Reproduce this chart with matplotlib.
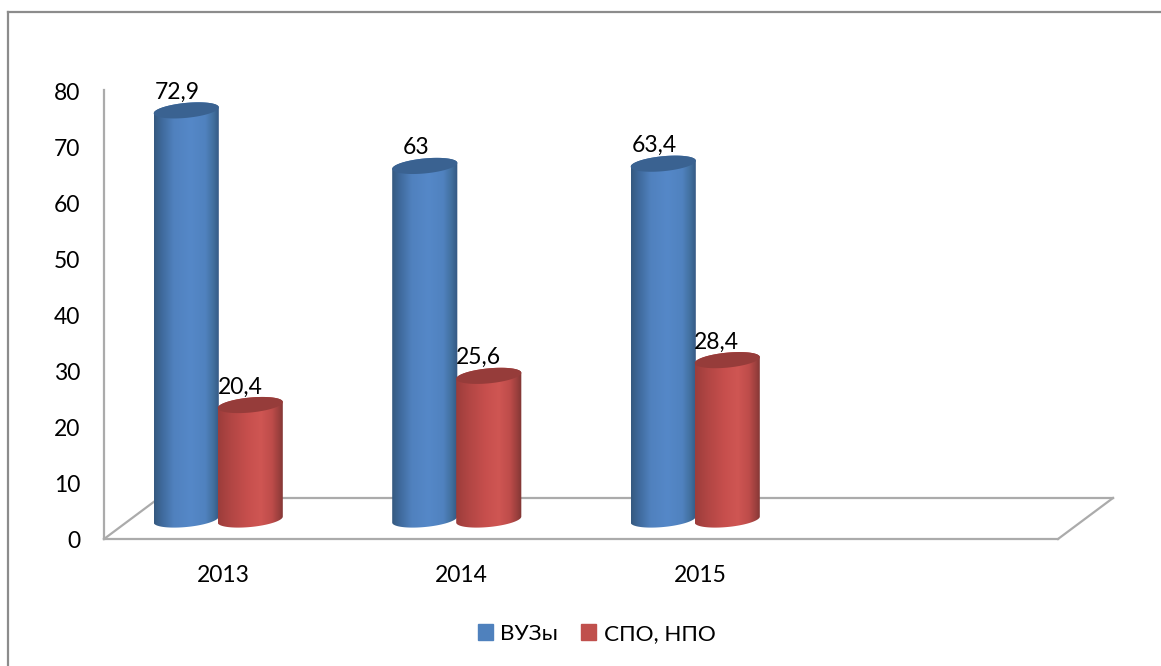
import numpy as np
import matplotlib
matplotlib.use("Agg")
import matplotlib.pyplot as plt
from matplotlib.colors import LinearSegmentedColormap
from matplotlib.lines import Line2D
from matplotlib.patches import Patch, Polygon
from matplotlib.transforms import ScaledTranslation

years = ["2013", "2014", "2015"]
vuz = [72.9, 63, 63.4]
spo = [20.4, 25.6, 28.4]
vuz_labels = ["72,9", "63", "63,4"]
spo_labels = ["20,4", "25,6", "28,4"]
y_ticks = [0, 10, 20, 30, 40, 50, 60, 70, 80]

W, H = 1161, 666
FS = 16.5
plt.rcParams['font.family'] = ['Lato', 'Open Sans', 'DejaVu Sans']
plt.rcParams['font.size'] = FS
fig = plt.figure(figsize=(W / 100, H / 100), dpi=100, facecolor='white')
L, R, T, B = 104, 1058, 90, 539
ax = fig.add_axes([L / W, 1 - B / H, (R - L) / W, (B - T) / H])
ax.set_facecolor('none')
ax.set_xlim(0, 4)
ax.set_ylim(0, 80)
px_x = 4 / (R - L)
px_y = 80 / (B - T)

GRID = '#ABABAB'
for s in ['top', 'right']:
    ax.spines[s].set_visible(False)
for s in ['left', 'bottom']:
    ax.spines[s].set_color(GRID)
    ax.spines[s].set_linewidth(1.6)

# floor of the 3D box
dx, dy = 55 * px_x, 41 * px_y
ax.plot([0, dx], [0, dy], color=GRID, lw=1.6, clip_on=False, zorder=1)
ax.plot([dx, 4 + dx], [dy, dy], color=GRID, lw=1.6, clip_on=False, zorder=1)
ax.plot([4, 4 + dx], [0, dy], color=GRID, lw=1.6, clip_on=False, zorder=1)

blue = LinearSegmentedColormap.from_list('b', [(0, '#35597F'), (0.12, '#3F6A9C'), (0.3, '#5081BE'), (0.55, '#5588C8'), (0.78, '#5082BF'), (0.9, '#42709F'), (1, '#335680')])
red = LinearSegmentedColormap.from_list('r', [(0, '#9C3D3B'), (0.2, '#B24644'), (0.45, '#C74F4D'), (0.65, '#CF5653'), (0.82, '#BE4C4A'), (0.93, '#9A3F3D'), (1, '#7E3634')])

base = 3.47
half_w = 0.1365
ry = 7.5 * px_y
tilt = 3 * px_y


def cylinder(center, value, cmap, top_color, z):
    t = np.linspace(0, 2 * np.pi, 121)
    top = base + value
    ex = half_w * np.cos(t)
    ey = ry * np.sin(t) + tilt * np.cos(t)
    lower = t[:61]
    # outline: front of bottom ellipse, up the right side, back over the top
    bx = center + half_w * np.cos(np.pi + lower)
    by = base + ry * np.sin(np.pi + lower) + tilt * np.cos(np.pi + lower)
    tx = center + half_w * np.cos(lower)
    ty = top + ry * np.sin(lower) + tilt * np.cos(lower)
    grad = np.linspace(0, 1, 256).reshape(1, -1)
    im = ax.imshow(grad, cmap=cmap, aspect='auto', zorder=z, interpolation='bilinear',
                   extent=[center - half_w, center + half_w, base - 3, top + 3])
    clip = Polygon(np.column_stack([np.r_[bx, tx], np.r_[by, ty]]), closed=True,
                   transform=ax.transData, fc='none', ec='none')
    ax.add_patch(clip)
    im.set_clip_path(clip)
    ax.fill(center + ex, top + ey, color=top_color, lw=0, zorder=z + 0.1)


centers = np.arange(len(years)) + 0.5
blue_off = -37 * px_x
red_off = 27 * px_x
for i, c in enumerate(centers):
    cylinder(c + blue_off, vuz[i], blue, '#3A6291', 3)
    cylinder(c + red_off, spo[i], red, '#963C3A', 4)
    ax.annotate(vuz_labels[i], (c + blue_off, base + vuz[i]), xytext=(-6.5, 8.3),
                textcoords='offset points', ha='center', va='baseline', color='black', zorder=6, annotation_clip=False)
    ax.annotate(spo_labels[i], (c + red_off, base + spo[i]), xytext=(-7.5, 8.3),
                textcoords='offset points', ha='center', va='baseline', color='black', zorder=6, annotation_clip=False)

ax.set_xlim(0, 4)
ax.set_ylim(0, 80)
ax.set_xticks(centers)
ax.set_xticklabels(years)
ax.set_yticks(y_ticks)
ax.tick_params(axis='both', length=0)
ax.tick_params(axis='y', pad=17)
ax.tick_params(axis='x', pad=18.5)
down = ScaledTranslation(0, -1 / 100, fig.dpi_scale_trans)
for lab in ax.get_yticklabels():
    lab.set_transform(lab.get_transform() + down)

LFS = 16.2
handles = [Patch(color='#4F81BD', label='ВУЗы'), Patch(color='#C0504D', label='СПО, НПО')]
fig.legend(handles=handles, loc='center', bbox_to_anchor=(596.5 / W, 1 - 634 / H), ncol=2, frameon=False,
           handlelength=0.67, handleheight=0.67, handletextpad=0.32, columnspacing=1.05, fontsize=LFS)

# chart frame: only the top and left edges are inside the picture
fig.add_artist(Line2D([8 / W, 8 / W], [0, 1 - 12 / H], color='#8C8C8C', lw=1.6))
fig.add_artist(Line2D([8 / W, 1], [1 - 12 / H, 1 - 12 / H], color='#8C8C8C', lw=1.6))

fig.savefig('out.png', dpi=100, facecolor='white')
